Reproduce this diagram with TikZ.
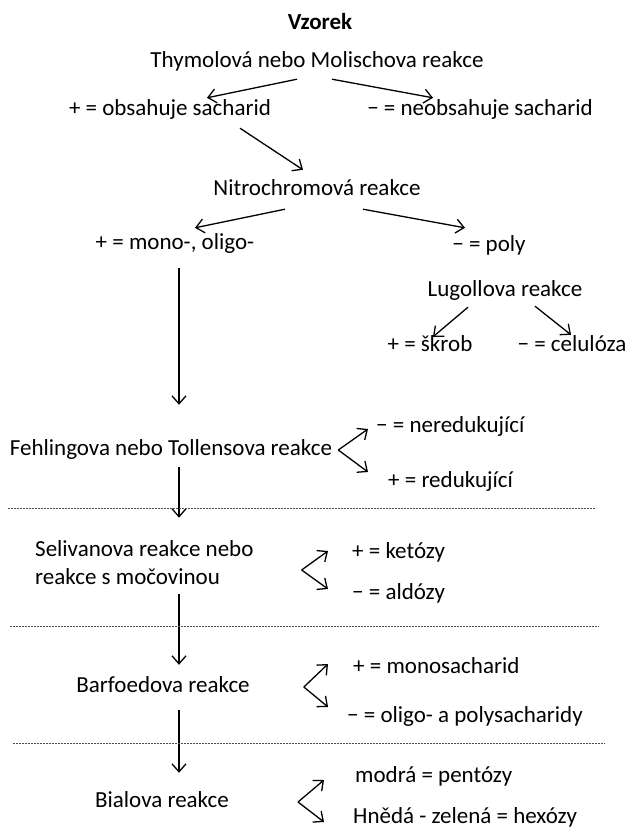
\documentclass[tikz,border=0pt]{standalone}
\usepackage{fontspec}
\setmainfont{Carlito}
\usetikzlibrary{arrows.meta,calc}

\begin{document}
\begin{tikzpicture}[x=1pt,y=-1pt,
  every node/.style={inner sep=0pt,font=\fontsize{23}{28}\selectfont},
  lbl/.style={text height=15pt,text depth=5pt},
  lbl2/.style={align=left},
  arr/.style={draw=black,line width=1.3pt,-{Straight Barb[length=8pt,width=14pt]}},
  sep/.style={draw=black!70,line width=0.7pt,dash pattern=on 2pt off 1pt}]
\useasboundingbox (0,0) rectangle (628,831);
\coordinate (spine) at (179,0);
% upper part
\node[lbl] (vzorek) at (320,24) {\textbf{Vzorek}};
\node[lbl] (thym) at (317,62) {Thymolová nebo Molischova reakce};
\node[lbl] (obs) at (170,110) {+ = obsahuje sacharid};
\node[lbl] (neobs) at (480,110) {− = neobsahuje sacharid};
\node[lbl] (nitro) at (317,190) {Nitrochromová reakce};
\node[lbl] (mono) at (175,244) {+ = mono-, oligo-};
\node[lbl] (poly) at (489,246) {− = poly};
\node[lbl] (lugol) at (505,291) {Lugollova reakce};
\node[lbl] (skrob) at (430,346) {+ = škrob};
\node[lbl] (celul) at (572,346) {− = celulóza};
\draw[arr] ($(thym.south)+(-20,7)$) -- ($(obs.north)+(37,-2)$);
\draw[arr] ($(thym.south)+(15,7)$) -- ($(neobs.north)+(-47,-2)$);
\draw[arr] ($(obs.south)+(70,8)$) -- ($(nitro.north)+(-14,-10)$);
\draw[arr] ($(nitro.south)+(-32,9)$) -- ($(mono.north)+(20,-6)$);
\draw[arr] ($(nitro.south)+(46,9)$) -- ($(poly.north)+(-24,-8)$);
\draw[arr] ($(lugol.south)+(-37,6)$) -- ($(skrob.north)+(3,1)$);
\draw[arr] ($(lugol.south)+(30,5)$) -- ($(celul.north)+(-1,-1)$);
% reactions
\node[lbl] (fehl) at (171,450) {Fehlingova nebo Tollensova reakce};
\node[lbl,anchor=west] (nered) at (376,427) {− = neredukující};
\node[lbl,anchor=west] (red) at (388,482) {+ = redukující};
\node[lbl2,anchor=west] (seliv) at (35,563) {Selivanova reakce nebo\\reakce s močovinou};
\node[lbl,anchor=west] (ket) at (352,553) {+ = ketózy};
\node[lbl,anchor=west] (ald) at (352,594) {− = aldózy};
\node[lbl] (barf) at (163,687) {Barfoedova reakce};
\node[lbl,anchor=west] (monos) at (353,668) {+ = monosacharid};
\node[lbl,anchor=west] (olig) at (347,717) {− = oligo- a polysacharidy};
\node[lbl] (bial) at (162,802) {Bialova reakce};
\node[lbl,anchor=west] (modra) at (355,777) {modrá = pentózy};
\node[lbl,anchor=west] (hneda) at (353,818) {Hnědá - zelená = hexózy};
\draw[arr] ($(mono.south -| spine)+(0,14)$) -- ($(fehl.north -| spine)+(0,-35)$);
\draw[arr] ($(fehl.south -| spine)+(0,7)$) -- ($(seliv.north -| spine)+(0,-23)$);
\draw[arr] ($(seliv.south -| spine)+(0,9)$) -- ($(barf.north -| spine)+(0,-12)$);
\draw[arr] ($(barf.south -| spine)+(0,13)$) -- ($(bial.north -| spine)+(0,-19)$);
% forks
\coordinate (fehlV) at ($(fehl.east)+(6,0)$);
\draw[arr] (fehlV) -- ($(nered.west)+(-8,2)$);
\draw[arr] (fehlV) -- ($(red.west)+(-20,-10)$);
\coordinate (selivV) at ($(seliv.east)+(48,7)$);
\draw[arr] (selivV) -- ($(ket.west)+(-24,-2)$);
\draw[arr] (selivV) -- ($(ald.west)+(-24,-5)$);
\coordinate (barfV) at ($(barf.east)+(54,0)$);
\draw[arr] (barfV) -- ($(monos.west)+(-25,-4)$);
\draw[arr] (barfV) -- ($(olig.west)+(-19,-10)$);
\coordinate (bialV) at ($(bial.east)+(69,0)$);
\draw[arr] (bialV) -- ($(modra.west)+(-31,3)$);
\draw[arr] (bialV) -- ($(hneda.west)+(-29,4)$);
% separators
\draw[sep] (8,508) -- (596,508);
\draw[sep] (10,626) -- (599,626);
\draw[sep] (13,743) -- (605,743);
\end{tikzpicture}
\end{document}
